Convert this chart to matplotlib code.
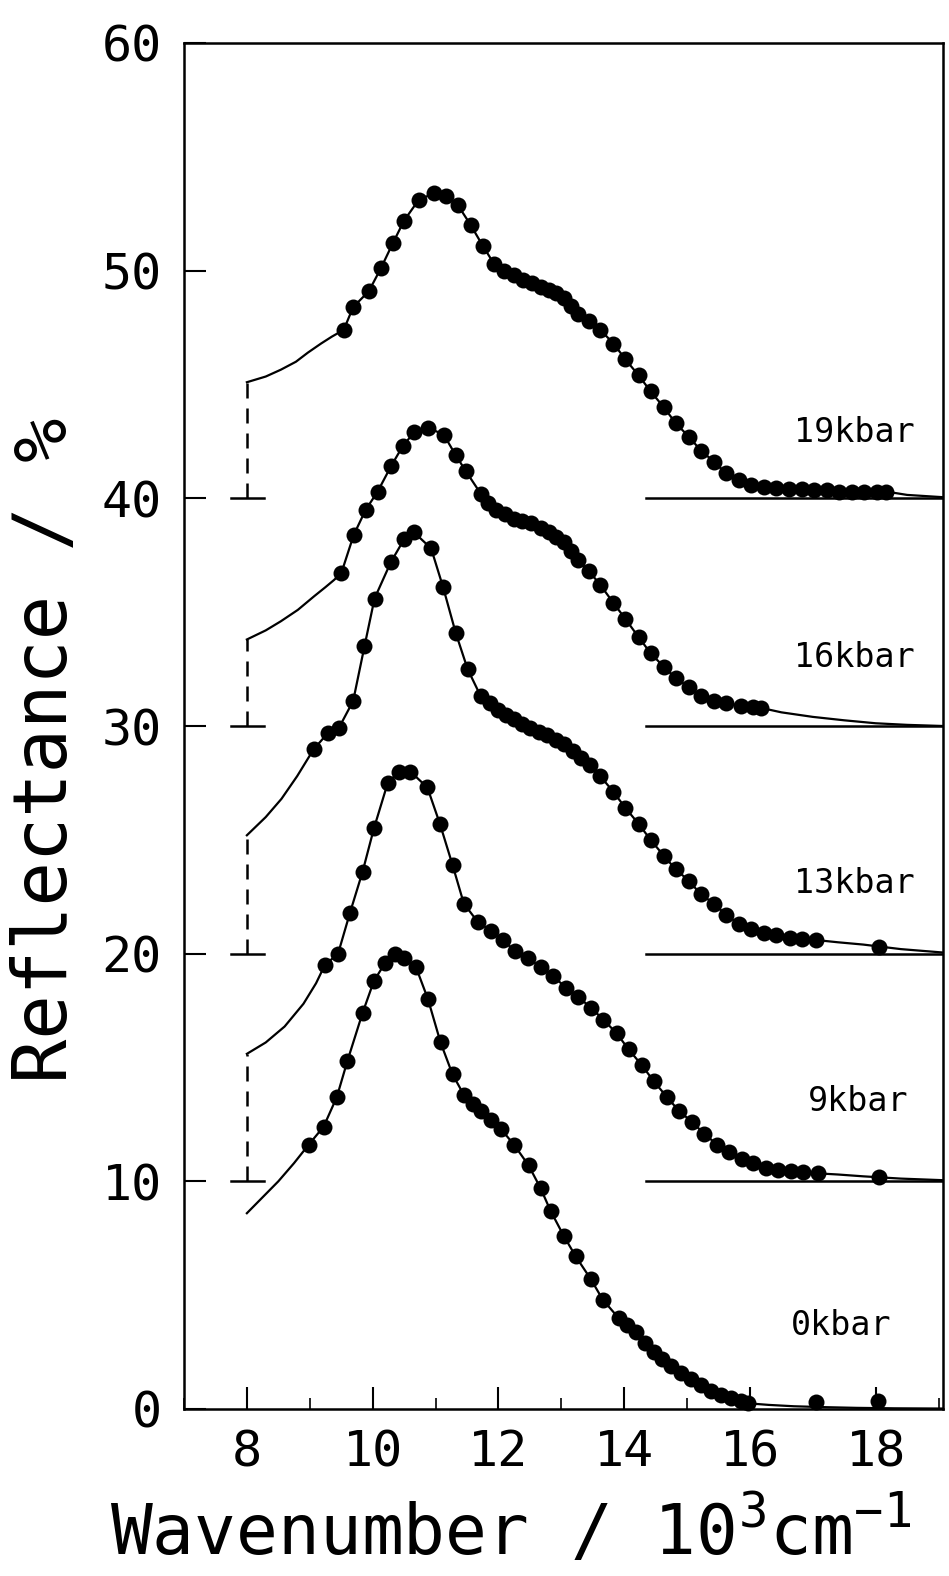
import matplotlib
matplotlib.use("Agg")
import matplotlib.pyplot as plt
from matplotlib.ticker import MultipleLocator

plt.rcParams["font.family"] = ["DejaVu Sans Mono", "DejaVu Sans"]
plt.rcParams["mathtext.fontset"] = "custom"
plt.rcParams["mathtext.rm"] = "DejaVu Sans Mono"
plt.rcParams["mathtext.it"] = "DejaVu Sans Mono"
plt.rcParams["mathtext.default"] = "rm"

# ---- 0 kbar ----
lead0_x = [8.0, 8.25, 8.5, 8.75]
lead0_y = [8.6, 9.3, 10.0, 10.8]
pts0_x = [8.98, 9.22, 9.43, 9.60, 9.84, 10.02, 10.20, 10.35, 10.50, 10.69,
          10.88, 11.08, 11.27, 11.45, 11.60, 11.72, 11.88, 12.04, 12.25, 12.48,
          12.67, 12.83, 13.04, 13.23, 13.47, 13.66, 13.91, 14.05, 14.18, 14.33,
          14.47, 14.60, 14.74, 14.90, 15.06, 15.22, 15.38, 15.54, 15.70, 15.85,
          15.97]
pts0_y = [11.6, 12.4, 13.7, 15.3, 17.4, 18.8, 19.6, 20.0, 19.8, 19.4,
          18.0, 16.1, 14.7, 13.8, 13.4, 13.1, 12.7, 12.3, 11.6, 10.7,
          9.7, 8.7, 7.6, 6.7, 5.7, 4.8, 4.0, 3.7, 3.4, 2.9,
          2.5, 2.2, 1.9, 1.6, 1.3, 1.05, 0.8, 0.6, 0.5, 0.35,
          0.25]
far0_x = [17.05, 18.03]
far0_y = [0.3, 0.35]
tail0_x = [16.3, 16.7, 17.2, 17.7, 18.3, 19.07]
tail0_y = [0.18, 0.12, 0.08, 0.05, 0.03, 0.02]

# ---- 9 kbar ----
lead9_x = [8.0, 8.3, 8.6, 8.9, 9.1]
lead9_y = [15.6, 16.1, 16.8, 17.8, 18.7]
pts9_x = [9.24, 9.45, 9.64, 9.84, 10.02, 10.24, 10.42, 10.60, 10.87, 11.07,
          11.27, 11.45, 11.67, 11.88, 12.07, 12.27, 12.47, 12.68, 12.87, 13.08,
          13.27, 13.48, 13.67, 13.88, 14.07, 14.28, 14.47, 14.68, 14.87, 15.08,
          15.27, 15.48, 15.67, 15.88, 16.05, 16.25, 16.45, 16.65, 16.85, 17.08]
pts9_y = [19.5, 20.0, 21.8, 23.6, 25.5, 27.5, 28.0, 28.0, 27.3, 25.7,
          23.9, 22.2, 21.4, 21.0, 20.6, 20.1, 19.8, 19.4, 19.0, 18.5,
          18.1, 17.6, 17.1, 16.5, 15.8, 15.1, 14.4, 13.7, 13.1, 12.6,
          12.1, 11.6, 11.3, 11.0, 10.8, 10.6, 10.5, 10.45, 10.4, 10.35]
far9_x = [18.05]
far9_y = [10.2]
tail9_x = [17.4, 17.8, 18.4, 19.07]
tail9_y = [10.3, 10.22, 10.12, 10.05]

# ---- 13 kbar ----
lead13_x = [8.0, 8.3, 8.55, 8.8, 9.0]
lead13_y = [25.2, 26.0, 26.8, 27.8, 28.7]
pts13_x = [9.07, 9.29, 9.46, 9.69, 9.87, 10.03, 10.29, 10.50, 10.66, 10.93,
           11.12, 11.32, 11.51, 11.72, 11.86, 11.99, 12.12, 12.25, 12.38, 12.51,
           12.65, 12.78, 12.91, 13.04, 13.18, 13.31, 13.45, 13.62, 13.83, 14.02,
           14.23, 14.42, 14.63, 14.82, 15.03, 15.22, 15.43, 15.62, 15.83, 16.02,
           16.23, 16.42, 16.63, 16.82, 17.05]
pts13_y = [29.0, 29.7, 29.9, 31.1, 33.5, 35.6, 37.2, 38.2, 38.5, 37.8,
           36.1, 34.1, 32.5, 31.3, 31.0, 30.7, 30.5, 30.3, 30.1, 29.9,
           29.75, 29.6, 29.4, 29.2, 28.9, 28.6, 28.3, 27.8, 27.1, 26.4,
           25.7, 25.0, 24.3, 23.7, 23.2, 22.6, 22.2, 21.7, 21.3, 21.1,
           20.9, 20.8, 20.7, 20.65, 20.6]
far13_x = [18.05]
far13_y = [20.3]
tail13_x = [17.4, 17.8, 18.4, 19.07]
tail13_y = [20.5, 20.4, 20.2, 20.05]

# ---- 16 kbar ----
lead16_x = [8.0, 8.3, 8.54, 8.81, 9.07, 9.25, 9.38]
lead16_y = [33.8, 34.2, 34.6, 35.1, 35.7, 36.1, 36.4]
pts16_x = [9.50, 9.70, 9.89, 10.08, 10.29, 10.48, 10.66, 10.88, 11.13, 11.32,
           11.48, 11.72, 11.84, 11.96, 12.10, 12.25, 12.38, 12.52, 12.67, 12.80,
           12.92, 13.04, 13.15, 13.26, 13.44, 13.62, 13.83, 14.02, 14.23, 14.42,
           14.63, 14.82, 15.03, 15.22, 15.43, 15.62, 15.85, 16.05, 16.17]
pts16_y = [36.7, 38.4, 39.5, 40.3, 41.4, 42.3, 42.9, 43.1, 42.8, 41.9,
           41.2, 40.2, 39.8, 39.5, 39.3, 39.1, 39.0, 38.9, 38.7, 38.5,
           38.3, 38.1, 37.7, 37.3, 36.8, 36.2, 35.4, 34.7, 33.9, 33.2,
           32.6, 32.1, 31.7, 31.3, 31.1, 31.0, 30.9, 30.85, 30.8]
tail16_x = [16.5, 17.0, 17.5, 18.0, 18.5, 19.07]
tail16_y = [30.6, 30.4, 30.25, 30.12, 30.05, 30.0]

# ---- 19 kbar ----
lead19_x = [8.0, 8.3, 8.54, 8.78, 8.97, 9.18, 9.35]
lead19_y = [45.1, 45.35, 45.65, 46.0, 46.4, 46.8, 47.1]
pts19_x = [9.54, 9.69, 9.94, 10.13, 10.32, 10.50, 10.73, 10.97, 11.16, 11.35,
           11.56, 11.75, 11.93, 12.09, 12.25, 12.39, 12.53, 12.67, 12.80, 12.92,
           13.04, 13.15, 13.26, 13.44, 13.62, 13.83, 14.02, 14.23, 14.42, 14.63,
           14.82, 15.03, 15.22, 15.43, 15.62, 15.83, 16.02, 16.23, 16.42, 16.62,
           16.82, 17.02, 17.22, 17.42, 17.62, 17.82, 18.02, 18.16]
pts19_y = [47.4, 48.4, 49.1, 50.1, 51.2, 52.2, 53.1, 53.4, 53.3, 52.9,
           52.0, 51.1, 50.3, 50.0, 49.8, 49.6, 49.45, 49.3, 49.15, 49.0,
           48.8, 48.45, 48.1, 47.8, 47.4, 46.8, 46.1, 45.4, 44.7, 44.0,
           43.3, 42.7, 42.1, 41.6, 41.1, 40.8, 40.6, 40.5, 40.45, 40.4,
           40.4, 40.35, 40.35, 40.3, 40.3, 40.3, 40.3, 40.3]
tail19_x = [18.5, 19.07]
tail19_y = [40.15, 40.05]

# offsets of the shifted spectra and label text
baselines = [10, 20, 30, 40]
label_text = ["0kbar", "9kbar", "13kbar", "16kbar", "19kbar"]
label_x = [16.65, 16.92, 16.7, 16.7, 16.7]
label_y = [3.65, 13.5, 23.1, 33.0, 42.9]

xticks = [8, 10, 12, 14, 16, 18]
yticks = [0, 10, 20, 30, 40, 50, 60]

fig = plt.figure(figsize=(9.49, 15.76), dpi=100)
ax = fig.add_axes([184 / 949, 1 - 1409 / 1576, (943 - 184) / 949, (1409 - 43) / 1576])

curves = [
    (lead0_x, lead0_y, pts0_x, pts0_y, far0_x, far0_y, tail0_x, tail0_y),
    (lead9_x, lead9_y, pts9_x, pts9_y, far9_x, far9_y, tail9_x, tail9_y),
    (lead13_x, lead13_y, pts13_x, pts13_y, far13_x, far13_y, tail13_x, tail13_y),
    (lead16_x, lead16_y, pts16_x, pts16_y, [], [], tail16_x, tail16_y),
    (lead19_x, lead19_y, pts19_x, pts19_y, [], [], tail19_x, tail19_y),
]

for lx, ly, px, py, fx, fy, tx, ty in curves:
    ax.plot(lx + px + tx, ly + py + ty, color="black", lw=1.6)
    ax.plot(px + fx, py + fy, "o", color="black", ms=11.5, mew=0, clip_on=False)

# shifted zero lines: short mark + dashed riser at the left, solid line at right
for base, lead_y in zip(baselines, [lead9_y, lead13_y, lead16_y, lead19_y]):
    ax.plot([7.75, 8.27], [base, base], color="black", lw=1.8)
    ax.plot([8.0, 8.0], [base, lead_y[0]], color="black", lw=1.8,
            dashes=(6, 4))
    ax.plot([14.35, 19.07], [base, base], color="black", lw=1.8)

for t, x, y in zip(label_text, label_x, label_y):
    ax.text(x, y, t, fontsize=24, ha="left", va="center")

ax.set_xlim(7.0, 19.07)
ax.set_ylim(0, 60)
ax.set_xticks(xticks)
ax.set_yticks(yticks)
ax.xaxis.set_minor_locator(MultipleLocator(1))
ax.tick_params(which="major", direction="in", length=16, width=1.5,
               labelsize=36)
ax.tick_params(which="minor", direction="in", length=8, width=1.2)
ax.tick_params(axis="y", pad=16)
ax.tick_params(axis="x", pad=14)
for s in ax.spines.values():
    s.set_linewidth(1.8)

fig.text(47 / 949, 1 - 750 / 1576, "Reflectance / %", rotation=90,
         fontsize=53, ha="center", va="center")
fig.text(110 / 949, 1 - 1555 / 1576, r"Wavenumber / 10$^{3}$cm$^{-1}$",
         fontsize=50, ha="left", va="baseline")

fig.savefig("out.png", dpi=100)
